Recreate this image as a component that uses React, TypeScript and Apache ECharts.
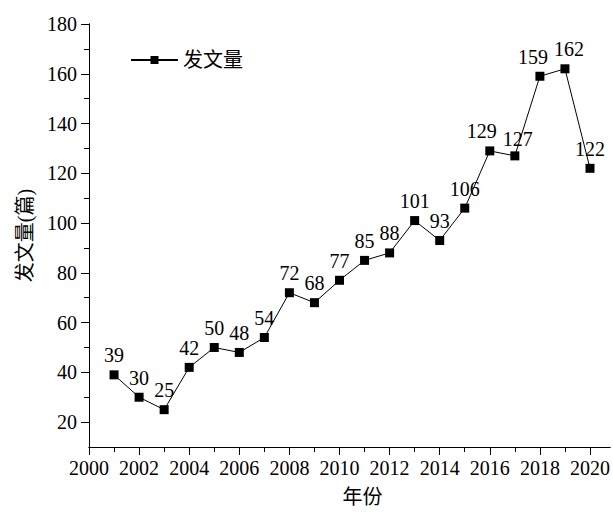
import React, { useEffect, useRef } from "react";
import * as echarts from "echarts";

const years = [2001, 2002, 2003, 2004, 2005, 2006, 2007, 2008, 2009, 2010, 2011, 2012, 2013, 2014, 2015, 2016, 2017, 2018, 2019, 2020];
const counts = [39, 30, 25, 42, 50, 48, 54, 72, 68, 77, 85, 88, 101, 93, 106, 129, 127, 159, 162, 122];
const xMajor = [2000, 2002, 2004, 2006, 2008, 2010, 2012, 2014, 2016, 2018, 2020];
const xMinor = [2001, 2003, 2005, 2007, 2009, 2011, 2013, 2015, 2017, 2019];
const yMajor = [20, 40, 60, 80, 100, 120, 140, 160, 180];
const yMinor = [30, 50, 70, 90, 110, 130, 150, 170];
const seriesName = "发文量";
const xName = "年份";
const yName = "发文量(篇)";

const FONT = "'Liberation Serif', 'Times New Roman', serif";
const CJK = "'Liberation Serif', 'Noto Sans CJK SC', sans-serif";

// small label nudges (by year) to keep neighbouring labels apart
const labelShift: Record<number, [number, number]> = {
  2016: [-8, 0],
  2017: [3, 3],
  2018: [-7, 0],
  2019: [4, 0],
};

export default function App() {
  const ref = useRef<HTMLDivElement>(null);
  useEffect(() => {
    if (!ref.current) return;
    const chart = echarts.init(ref.current, undefined, { renderer: "svg" });
    const axisLine = { show: true, onZero: false, lineStyle: { color: "#000", width: 1 } };
    const xBase = {
      type: "value",
      position: "bottom",
      offset: 0,
      min: 2000,
      max: 2020.8,
      splitLine: { show: false },
      axisLine,
    };
    const yBase = {
      type: "value",
      position: "left",
      offset: 0,
      min: 10,
      max: 180,
      splitLine: { show: false },
      axisLine,
    };
    chart.setOption({
      animation: false,
      textStyle: { fontFamily: FONT },
      grid: { left: 89, top: 24, right: 0, bottom: 61, containLabel: false },
      legend: {
        data: [seriesName],
        left: 125,
        top: 45,
        itemWidth: 47,
        itemHeight: 10,
        textStyle: { fontSize: 20, color: "#000", fontFamily: CJK },
      },
      xAxis: [
        {
          ...xBase,
          axisTick: { show: true, inside: false, length: 5, customValues: xMinor, lineStyle: { color: "#000" } },
          axisLabel: { show: false },
        },
        {
          ...xBase,
          name: xName,
          nameLocation: "middle",
          nameGap: 40,
          nameTextStyle: { fontSize: 20, color: "#000", fontFamily: CJK, padding: [0, 0, 0, 26] },
          axisTick: { show: true, inside: false, length: 8, customValues: xMajor, lineStyle: { color: "#000" } },
          axisLabel: {
            show: true,
            customValues: xMajor,
            showMinLabel: true,
            showMaxLabel: true,
            fontSize: 20,
            color: "#000",
            margin: 11,
            fontFamily: FONT,
            formatter: (v: number) => String(v),
          },
        },
      ],
      yAxis: [
        {
          ...yBase,
          axisTick: { show: true, inside: false, length: 5, customValues: yMinor, lineStyle: { color: "#000" } },
          axisLabel: { show: false },
        },
        {
          ...yBase,
          name: yName,
          nameLocation: "middle",
          nameGap: 54,
          nameRotate: 90,
          nameTextStyle: { fontSize: 20, color: "#000", fontFamily: CJK },
          axisTick: { show: true, inside: false, length: 8, customValues: yMajor, lineStyle: { color: "#000" } },
          axisLabel: {
            show: true,
            customValues: yMajor,
            fontSize: 20,
            color: "#000",
            margin: 12,
            fontFamily: FONT,
            formatter: (v: number) => String(v),
          },
        },
      ],
      series: [
        {
          name: seriesName,
          type: "line",
          xAxisIndex: 0,
          yAxisIndex: 0,
          data: years.map((y, i) => [y, counts[i]]),
          symbol: "rect",
          symbolSize: 9,
          itemStyle: { color: "#000" },
          lineStyle: { color: "#000", width: 1 },
          label: {
            show: true,
            position: "top",
            distance: 5,
            fontSize: 20,
            color: "#000",
            fontFamily: FONT,
            formatter: (p: any) => String(p.value[1]),
          },
          labelLayout: (params: any) => {
            const s = labelShift[years[params.dataIndex]];
            return s ? { dx: s[0], dy: s[1], hideOverlap: false } : { hideOverlap: false };
          },
        },
      ],
    });
    return () => chart.dispose();
  }, []);
  return (
    <div
      ref={ref}
      style={{ position: "fixed", left: 0, top: 0, width: 613, height: 512, background: "#fff" }}
    />
  );
}
